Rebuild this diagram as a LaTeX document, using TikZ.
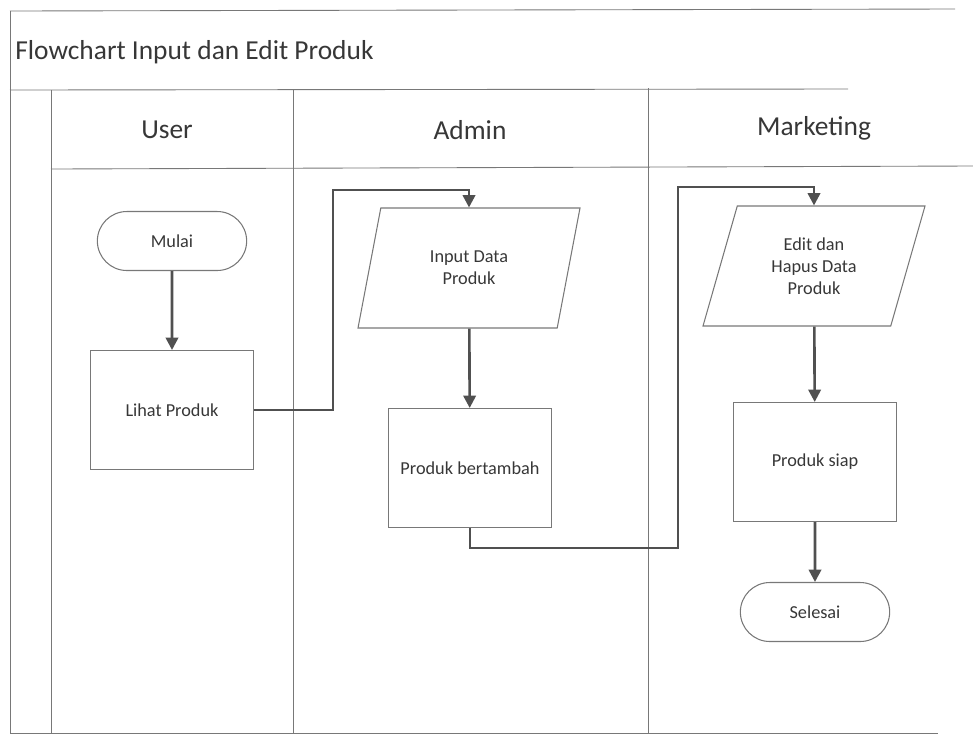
\documentclass[tikz,border=0pt]{standalone}
\usepackage{fontspec}
\setmainfont{Carlito}
\usetikzlibrary{shapes.geometric,shapes.misc,arrows.meta}
\definecolor{frame}{RGB}{120,120,120}
\definecolor{conn}{RGB}{80,80,80}
\definecolor{txt}{RGB}{55,55,55}
\tikzset{
  shapeline/.style={draw=frame, line width=0.6pt},
  proc/.style={shapeline, rectangle, minimum width=163*0.02cm, minimum height=119*0.02cm, inner sep=2pt, font=\fontsize{10.4}{12.5}\selectfont, text=txt, align=center},
  term/.style={shapeline, rounded rectangle, minimum width=161*0.02cm, minimum height=59*0.02cm, font=\fontsize{10.4}{12.5}\selectfont, text=txt},
  io/.style={shapeline, trapezium, trapezium left angle=63.4, trapezium right angle=116.6, minimum height=120*0.02cm, trapezium stretches body, inner xsep=0pt, font=\fontsize{10.4}{12.5}\selectfont, text=txt, align=center},
  flow/.style={draw=conn, line width=1.5pt, -{Triangle[length=7pt,width=7pt]}},
  lane/.style={draw=frame, line width=0.5pt},
  hdr/.style={font=\fontsize{15.6}{18}\selectfont, text=txt}
}
\begin{document}
\begin{tikzpicture}[x=0.02cm,y=-0.02cm]
\useasboundingbox (0,0) rectangle (973,735);
% frame
\draw[lane] (10,11) -- (955,9);
\draw[lane] (10,11) -- (10,733);
\draw[lane] (10,90) -- (848,89);
\draw[lane] (51,90) -- (51,733);
\draw[lane] (51,169) -- (973,166);
\draw[lane] (293,90) -- (293,733);
\draw[lane] (648,88) -- (648,733);
\draw[lane] (10,733) -- (938,733);
% titles
\node[hdr, anchor=west, inner sep=0pt] (title) at (15,52) {Flowchart Input dan Edit Produk};
\node[hdr] (huser) at (167,130) {User};
\node[hdr] (hadmin) at (470,130) {Admin};
\node[hdr] (hmkt) at (814,128) {Marketing};
% nodes
\node[term] (mulai) at (172,241) {Mulai};
\node[proc] (lihat) at (172,410) {Lihat Produk};
\node[io, minimum width=222*0.02cm] (input) at (469,268) {Input Data\\Produk};
\node[proc] (tambah) at (470,468) {Produk bertambah};
\node[io, minimum width=222*0.02cm] (edit) at (814,266) {Edit dan\\Hapus Data\\Produk};
\node[proc] (siap) at (815,462) {Produk siap};
\node[term] (selesai) at (815,612) {Selesai};
% connectors
\draw[flow] (mulai) -- (lihat);
\coordinate (c1) at (333,410);
\coordinate (c2) at (333,190);
\draw[flow] (lihat.east) -- (c1) -- (c2) -| (input.north);
\draw[flow] (input) -- (tambah);
\coordinate (c3) at (470,548);
\coordinate (c4) at (678,548);
\coordinate (c5) at (678,187);
\draw[flow] (tambah.south) -- (c3) -- (c4) -- (c5) -| (edit.north);
\draw[flow] (edit) -- (siap);
\draw[flow] (siap) -- (selesai);
\end{tikzpicture}
\end{document}
